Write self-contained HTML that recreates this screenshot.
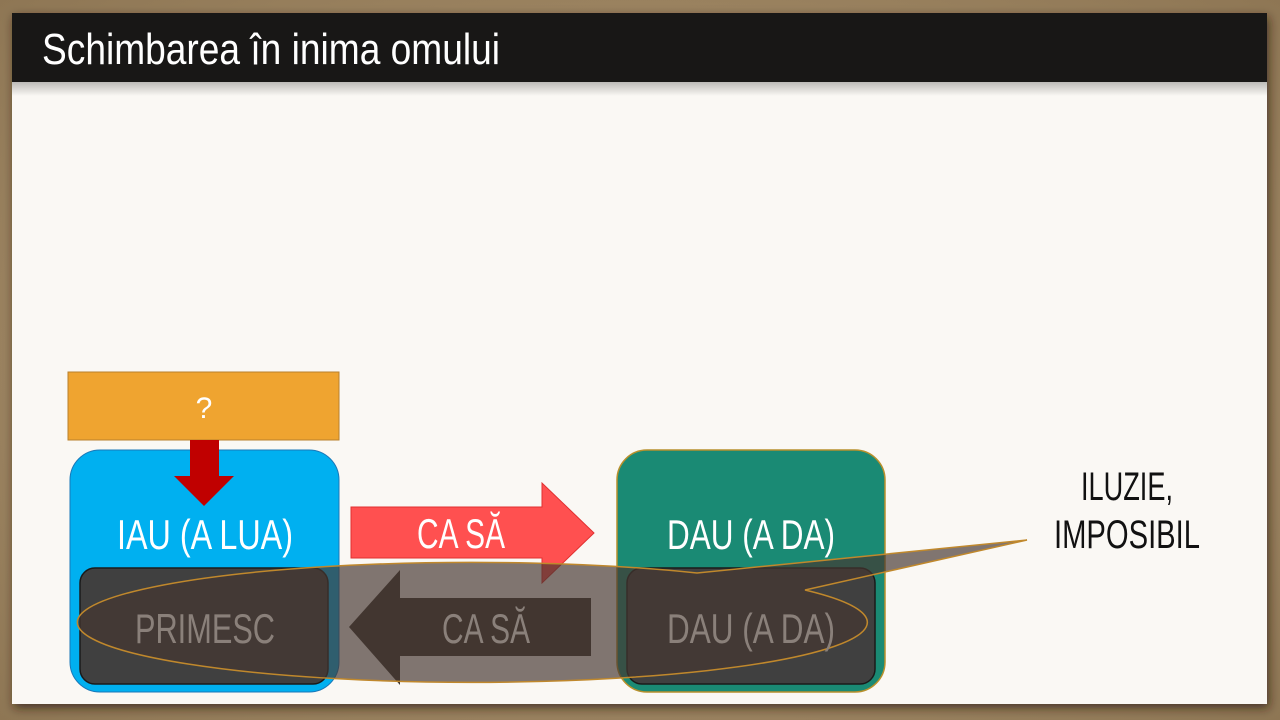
<!DOCTYPE html>
<html><head><meta charset="utf-8"><style>
html,body{margin:0;padding:0;width:1280px;height:720px;overflow:hidden;background:#a89070;}
svg{display:block}
text{font-family:"Liberation Sans Narrow","Liberation Sans",sans-serif;}
</style></head><body>
<svg width="1280" height="720" viewBox="0 0 1280 720" xmlns="http://www.w3.org/2000/svg">
<defs>
<radialGradient id="bg" cx="50%" cy="50%" r="75%">
<stop offset="0" stop-color="#b49c78"/><stop offset="1" stop-color="#8c7452"/>
</radialGradient>
<filter id="sh" x="-5%" y="-5%" width="110%" height="115%"><feDropShadow dx="2" dy="4" stdDeviation="5" flood-color="#2a1e10" flood-opacity="0.7"/></filter>
<linearGradient id="hs" x1="0" y1="0" x2="0" y2="1"><stop offset="0" stop-color="#000" stop-opacity="0.25"/><stop offset="1" stop-color="#000" stop-opacity="0"/></linearGradient>
</defs>
<rect width="1280" height="720" fill="url(#bg)"/>
<rect x="12" y="13" width="1255" height="691" fill="#faf8f4" filter="url(#sh)"/>
<rect x="12" y="82" width="1255" height="14" fill="url(#hs)"/>
<rect x="12" y="13" width="1255" height="69" fill="#181716"/>
<text x="42" y="64" font-size="44" fill="#fff" textLength="458" lengthAdjust="spacingAndGlyphs">Schimbarea în inima omului</text>

<rect x="68" y="372" width="271" height="68" fill="#efa430" stroke="#b8802c" stroke-width="1"/>
<text x="204" y="418" font-size="30" fill="#fff" text-anchor="middle">?</text>

<rect x="70" y="450" width="269" height="242" rx="30" fill="#00b0f0" stroke="#1a78b8" stroke-width="1"/>
<polygon points="190,440 219,440 219,476 234,476 204,506 174,476 190,476" fill="#c00000"/>
<text x="205" y="549" font-size="42" fill="#fff" text-anchor="middle" textLength="176" lengthAdjust="spacingAndGlyphs">IAU (A LUA)</text>
<rect x="80" y="568" width="248" height="116" rx="15" fill="#404040" stroke="#1a1a1a" stroke-width="1.5"/>

<rect x="617" y="450" width="268" height="242" rx="30" fill="#1a8a74" stroke="#b8902c" stroke-width="1.5"/>
<text x="751" y="549" font-size="42" fill="#fff" text-anchor="middle" textLength="168" lengthAdjust="spacingAndGlyphs">DAU (A DA)</text>
<rect x="627" y="568" width="248" height="116" rx="15" fill="#404040" stroke="#1a1a1a" stroke-width="1.5"/>

<polygon points="351,507 542,507 542,483 594,533 542,583 542,558 351,558" fill="#ff5050" stroke="#e03030" stroke-width="1"/>
<text x="461" y="548" font-size="42" fill="#fff" text-anchor="middle" textLength="88" lengthAdjust="spacingAndGlyphs">CA SĂ</text>

<polygon points="349,627 400,570 400,598 591,598 591,656 400,656 400,685" fill="#3d3530"/>

<path d="M 697,573 L 1027,540 L 805,590 A 395 60 0 1 1 697,573 Z" fill="rgba(70,55,48,0.68)" stroke="#c0882c" stroke-width="1.5"/>

<text x="205" y="643" font-size="42" fill="#8a807a" text-anchor="middle" textLength="140" lengthAdjust="spacingAndGlyphs">PRIMESC</text>
<text x="486" y="643" font-size="42" fill="#8a807a" text-anchor="middle" textLength="88" lengthAdjust="spacingAndGlyphs">CA SĂ</text>
<text x="751" y="643" font-size="42" fill="#8a807a" text-anchor="middle" textLength="168" lengthAdjust="spacingAndGlyphs">DAU (A DA)</text>

<text x="1127" y="500" font-size="40" fill="#111" text-anchor="middle" textLength="92" lengthAdjust="spacingAndGlyphs">ILUZIE,</text>
<text x="1127" y="548" font-size="40" fill="#111" text-anchor="middle" textLength="146" lengthAdjust="spacingAndGlyphs">IMPOSIBIL</text>
</svg>
</body></html>
